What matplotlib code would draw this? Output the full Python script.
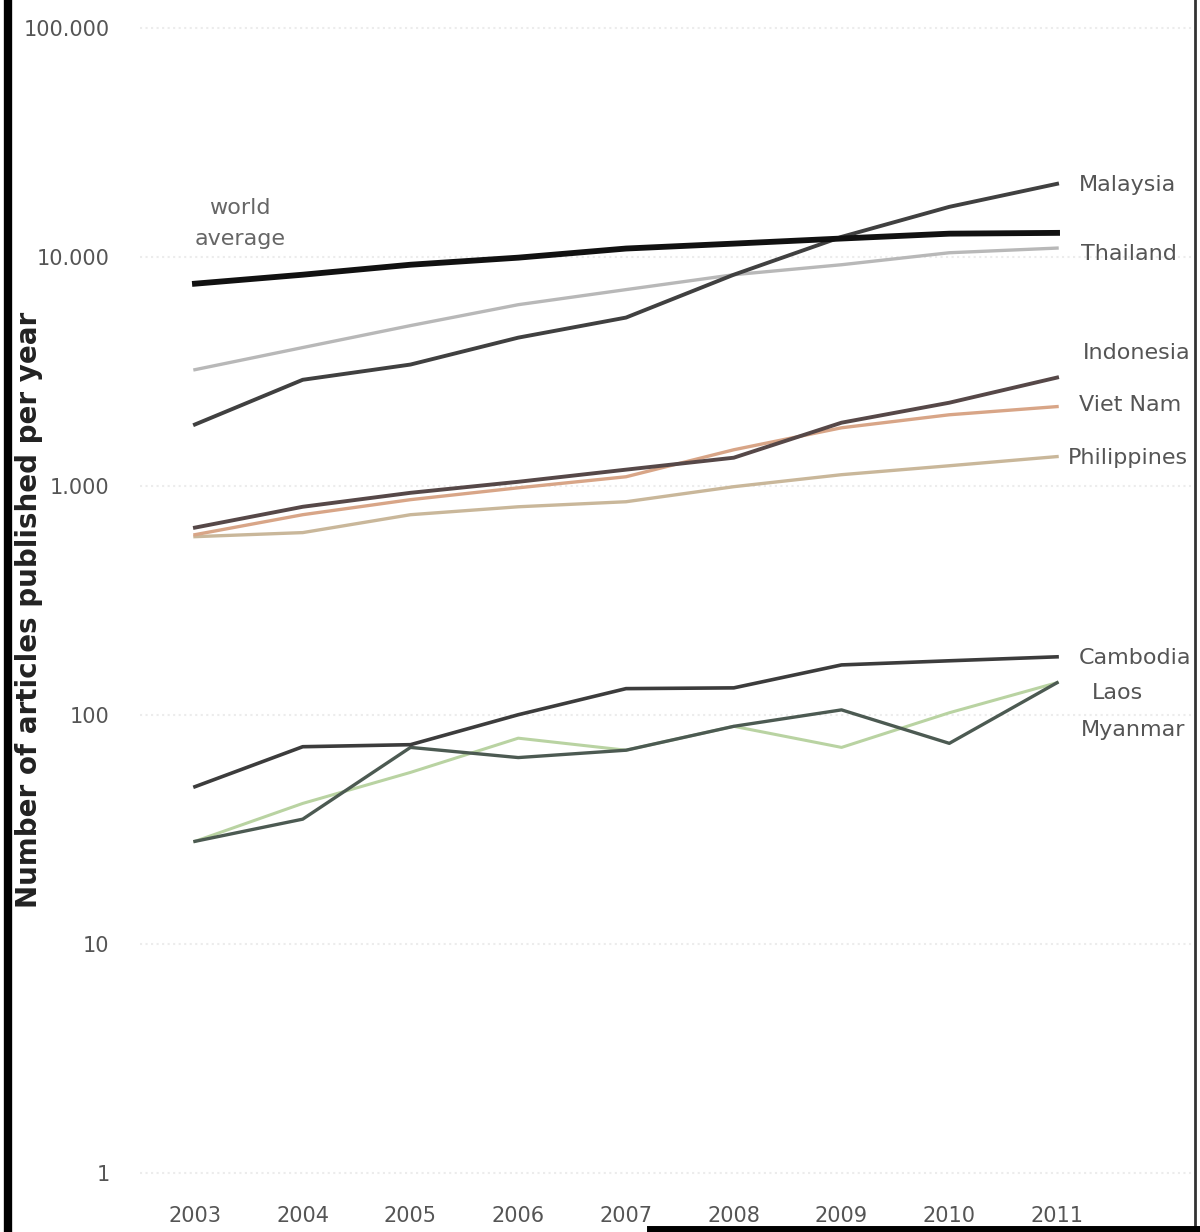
import matplotlib.pyplot as plt
from matplotlib.lines import Line2D

plt.rcParams['font.family'] = ['DejaVu Sans']

years = [2003, 2004, 2005, 2006, 2007, 2008, 2009, 2010, 2011]

world_avg   = [7620, 8340, 9220, 9900, 10850, 11400, 12000, 12600, 12700]
malaysia    = [1850, 2900, 3380, 4430, 5420, 8340, 12200, 16500, 20800]
thailand    = [3210, 4010, 5000, 6170, 7180, 8340, 9220, 10400, 10900]
indonesia   = [656, 809, 931, 1040, 1175, 1325, 1884, 2303, 2966]
viet_nam    = [611, 747, 869, 979, 1094, 1435, 1790, 2040, 2215]
philippines = [599, 624, 747, 809, 851, 990, 1117, 1222, 1340]
cambodia    = [48.5, 72.5, 74, 100, 130, 131, 165, 172, 179]
laos        = [28, 41, 56, 79, 70, 89, 72, 102, 138]
myanmar     = [28, 35, 72, 65, 70, 89, 105, 75, 138]

y_ticks = [1, 10, 100, 1000, 10000, 100000]
y_tick_labels = ['1', '10', '100', '1.000', '10.000', '100.000']

# etiquetas a la derecha: (texto, x, y)
right_labels = [
    ('Malaysia', 2011.2, 20500),
    ('Thailand', 2011.22, 10300),
    ('Indonesia', 2011.24, 3800),
    ('Viet Nam', 2011.2, 2250),
    ('Philippines', 2011.1, 1315),
    ('Cambodia', 2011.2, 176),
    ('Laos', 2011.32, 125),
    ('Myanmar', 2011.22, 86),
]

fig = plt.figure(figsize=(12, 12.32), dpi=100)
ax = fig.add_axes([140/1200, 37/1232, 1055/1200, 1195/1232])

ax.plot(years, thailand, color='#b8b8b8', lw=2.4, zorder=2)
ax.plot(years, philippines, color='#c9b79a', lw=2.4, zorder=2)
ax.plot(years, viet_nam, color='#d8a587', lw=2.4, zorder=2)
ax.plot(years, indonesia, color='#564848', lw=2.8, zorder=3)
ax.plot(years, laos, color='#b9d3a2', lw=2.2, zorder=2)
ax.plot(years, myanmar, color='#4c5a52', lw=2.4, zorder=3)
ax.plot(years, cambodia, color='#3c3c3c', lw=2.6, zorder=3)
ax.plot(years, malaysia, color='#404040', lw=2.8, zorder=3)
ax.plot(years, world_avg, color='#111111', lw=4.2, zorder=4)

ax.set_yscale('log')
ax.set_ylim(0.80, 132000)
ax.set_xlim(2002.49, 2012.28)

ax.set_yticks(y_ticks)
ax.set_yticklabels(y_tick_labels)
ax.minorticks_off()
ax.set_xticks(years)
ax.set_xticklabels([str(y) for y in years])
ax.tick_params(axis='y', length=0, pad=22, labelsize=15, labelcolor='#555555')
ax.tick_params(axis='x', length=0, pad=8, labelsize=15, labelcolor='#555555')

ax.grid(axis='y', color='#ececec', ls=':', lw=1.5)
for s in ax.spines.values():
    s.set_visible(False)

ax.set_ylabel('Number of articles published per year', fontsize=20,
              fontweight='bold', color='#222222')
ax.yaxis.set_label_coords(-0.092, 0.49)

ax.text(2003.42, 14000, 'world\naverage', fontsize=16, color='#666666',
        ha='center', va='center', linespacing=1.7)

for txt, x, y in right_labels:
    ax.text(x, y, txt, fontsize=16, color='#555555', ha='left', va='center')

# bordes del escaneo
fig.add_artist(Line2D([8/1200, 8/1200], [0, 1], color='black', lw=6))
fig.add_artist(Line2D([1195/1200, 1195/1200], [0, 1], color='#333333', lw=2))
fig.add_artist(Line2D([650/1200, 1], [3/1232, 3/1232], color='black', lw=5))

fig.savefig('out.png', dpi=100)
